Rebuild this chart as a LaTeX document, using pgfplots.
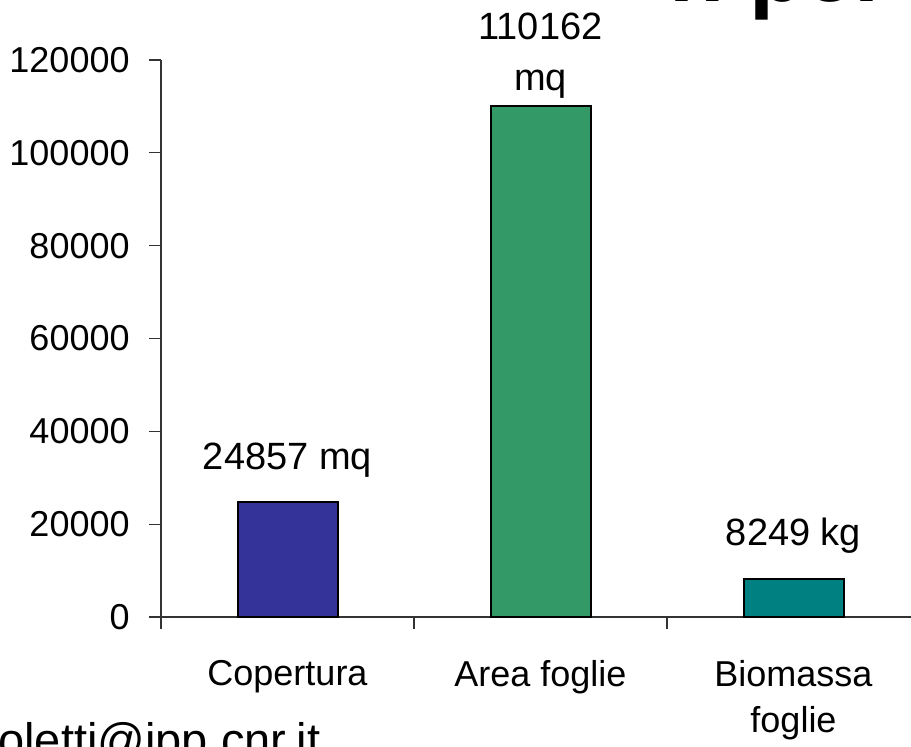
\documentclass[border=0pt]{standalone}
\usepackage{fontspec}
\setmainfont{Liberation Sans}
\usepackage{pgfplots}
\pgfplotsset{compat=1.18}
\definecolor{barblue}{HTML}{333399}
\definecolor{bargreen}{HTML}{339966}
\definecolor{barteal}{HTML}{008080}
\begin{document}
\begin{tikzpicture}
\useasboundingbox (0pt,0pt) rectangle (455.5pt,373.5pt);
\clip (0pt,0pt) rectangle (455.5pt,373.5pt);
\begin{axis}[
    at={(80.5pt,65pt)}, anchor=south west,
    scale only axis, width=379.5pt, height=278.5pt,
    xmin=0, xmax=3, ymin=0, ymax=120000,
    clip=false,
    axis x line*=bottom, axis y line*=left,
    axis line style={black!80, line width=0.6pt},
    tick align=outside,
    major tick length=6pt,
    tick style={black!80, line width=0.6pt},
    xtick={0,1,2,3}, xticklabels={},
    extra x ticks={0.5,1.5,2.5},
    extra x tick labels={Copertura,Area foglie,{Biomassa\\foglie}},
    extra x tick style={major tick length=0pt},
    ytick={0,20000,40000,60000,80000,100000,120000},
    yticklabels={0,20000,40000,60000,80000,100000,120000},
    scaled y ticks=false,
    ticklabel style={font=\fontsize{18}{23}\selectfont},
    xticklabel style={align=center, anchor=north, inner sep=0pt, yshift=-21.5pt},
    yticklabel style={anchor=east, inner sep=0pt, xshift=-9.5pt},
    nodes near coords style={font=\fontsize{19}{25.5}\selectfont, black, anchor=south, inner sep=0pt, align=center},
]
\addplot[ybar, bar width=50pt, bar shift=0pt, fill=barblue, draw=black, line width=1pt,
    nodes near coords={24857 mq}, every node near coord/.append style={yshift=11.5pt}]
    coordinates {(0.5,24857)};
\addplot[ybar, bar width=50pt, bar shift=0pt, fill=bargreen, draw=black, line width=1pt,
    nodes near coords={110162\\mq}, every node near coord/.append style={yshift=3pt}]
    coordinates {(1.5,110162)};
\addplot[ybar, bar width=50pt, bar shift=0pt, fill=barteal, draw=black, line width=1pt,
    nodes near coords={8249 kg}, every node near coord/.append style={yshift=12pt}]
    coordinates {(2.5,8249)};
\end{axis}
\node[anchor=base west, inner sep=0pt, font=\fontsize{23.5}{28}\selectfont] at (-1pt,-5pt) {oletti@ipp.cnr.it};
\node[anchor=base west, inner sep=0pt, font=\fontsize{45}{54}\selectfont\bfseries] at (334.5pt,372.75pt) {n per};
\end{tikzpicture}
\end{document}
